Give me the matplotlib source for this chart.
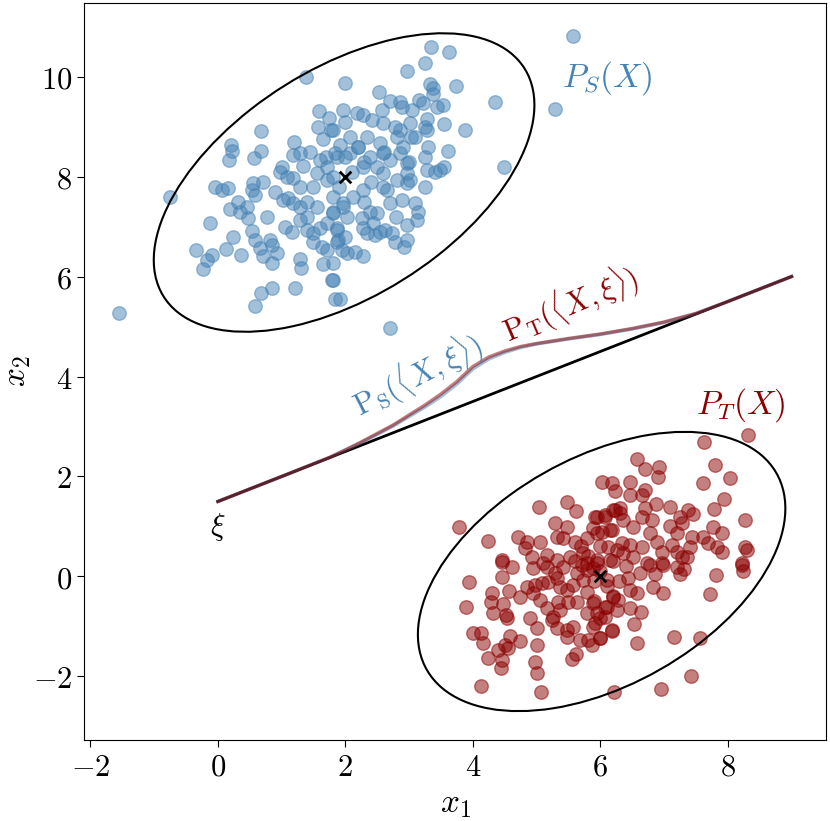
import numpy as np
import matplotlib
matplotlib.use("Agg")
import matplotlib.pyplot as plt
from matplotlib.patches import Ellipse
from matplotlib.ticker import FuncFormatter

plt.rcParams["mathtext.fontset"] = "cm"
plt.rcParams["font.family"] = "serif"

# source cluster P_S(X)
src_pts = [
    (1.39, 9.99), (2.0, 9.87), (1.58, 9.31), (1.96, 9.33), (1.74, 9.17), (1.57, 8.99),
    (1.77, 8.93), (1.65, 8.75), (0.67, 8.91), (0.2, 8.63), (0.22, 8.51), (0.17, 8.33),
    (0.67, 8.51), (0.56, 8.37), (1.18, 8.43), (1.33, 8.21), (1.29, 8.47), (1.44, 8.49),
    (1.91, 8.63), (1.84, 8.47), (1.6, 8.33), (1.71, 8.19), (1.55, 8.07), (1.8, 7.99),
    (1.71, 7.93), (0.97, 8.09), (1.08, 7.99), (1.18, 7.97), (-0.05, 7.79), (0.16, 7.77),
    (0.55, 7.87), (0.71, 7.89), (1.29, 7.79), (-0.75, 7.59), (0.06, 7.73), (0.53, 7.73),
    (0.58, 7.63), (0.31, 7.49), (0.19, 7.35), (0.45, 7.39), (0.47, 7.17), (0.35, 7.29),
    (-0.13, 7.07), (0.53, 6.91), (0.58, 6.73), (0.82, 6.73), (0.85, 6.63), (0.66, 6.57),
    (0.71, 6.41), (0.93, 6.47), (0.85, 6.27), (0.24, 6.79), (0.13, 6.55), (0.36, 6.43),
    (-0.35, 6.53), (-0.09, 6.43), (-0.17, 6.33), (-0.24, 6.15), (1.29, 6.35), (1.3, 6.17),
    (1.65, 6.25), (1.79, 5.93), (1.84, 5.55), (1.91, 5.55), (0.67, 5.67), (0.85, 5.77),
    (1.21, 5.77), (0.58, 5.41), (-1.55, 5.27), (0.77, 7.19), (0.89, 7.69), (1.02, 7.53),
    (1.1, 7.57), (1.18, 7.47), (1.29, 7.13), (1.4, 6.93), (1.49, 6.87), (1.6, 6.97),
    (1.71, 7.07), (1.8, 7.29), (1.87, 6.97), (2.02, 7.19), (1.96, 7.39), (1.29, 7.39),
    (1.4, 7.19), (1.55, 7.39), (1.71, 6.53), (1.88, 6.73), (1.95, 6.53), (2.02, 6.47),
    (1.8, 6.27), (1.16, 6.89), (1.05, 6.99), (1.49, 6.69), (1.63, 6.59),
    (5.57, 10.81), (3.34, 10.59), (3.62, 10.49), (3.25, 10.27), (2.96, 10.11),
    (3.33, 9.85), (3.37, 9.77), (3.37, 9.65), (3.73, 9.81), (4.35, 9.49), (5.29, 9.35),
    (2.53, 9.69), (2.7, 9.51), (2.85, 9.49), (2.89, 9.39), (3.15, 9.53), (3.22, 9.47),
    (3.04, 9.33), (3.44, 9.39), (3.53, 9.43), (2.18, 9.27), (2.27, 9.23), (2.42, 9.13),
    (2.57, 9.33), (2.59, 9.07), (2.78, 8.99), (2.85, 8.93), (3.01, 9.07), (3.03, 8.79),
    (3.28, 9.15), (3.25, 8.99), (3.28, 8.93), (3.55, 9.05), (3.87, 8.93), (3.29, 8.59),
    (3.61, 8.51), (3.25, 8.39), (3.55, 8.19), (3.28, 8.13), (3.4, 8.09), (4.49, 8.19),
    (1.8, 8.93), (2.07, 8.79), (2.2, 8.59), (2.34, 8.79), (2.38, 8.39), (2.54, 8.67),
    (2.59, 8.47), (2.7, 8.33), (2.81, 8.79), (2.85, 8.47), (2.96, 8.27), (2.96, 8.07),
    (3.01, 7.93), (2.27, 8.19), (2.59, 8.07), (2.07, 8.47), (1.87, 8.39),
    (3.25, 7.79), (3.48, 8.13), (3.09, 7.47), (3.14, 7.29), (3.12, 7.13), (2.96, 7.03),
    (2.96, 6.73), (2.92, 6.59), (2.78, 6.69), (2.73, 6.87), (2.62, 6.93), (2.54, 6.89),
    (2.46, 6.83), (2.34, 6.87), (2.27, 6.97), (2.49, 7.27), (2.43, 7.07), (2.26, 7.17),
    (2.38, 7.29), (2.7, 7.47), (2.65, 7.73), (2.89, 7.53), (2.96, 7.87), (2.81, 7.93),
    (2.59, 7.79), (2.27, 7.73), (2.12, 7.59), (1.96, 7.47), (1.8, 7.27), (1.87, 6.93),
    (1.99, 6.79), (1.87, 6.69), (2.15, 6.49), (2.27, 6.41), (1.8, 5.93), (2.7, 4.97),
    (2.1, 8.1), (2.3, 8.3), (1.9, 7.8), (2.4, 7.9), (2.2, 8.6), (1.7, 8.4), (2.5, 8.2),
    (2.0, 8.4), (1.8, 7.6), (2.6, 8.5), (2.3, 7.5), (1.5, 7.8), (2.9, 8.6), (3.1, 8.8),
    (2.0, 9.1), (1.2, 8.7), (1.0, 8.2), (2.8, 7.2), (3.0, 8.3), (1.4, 7.5),
]

# target cluster P_T(X)
tgt_pts = [
    (3.78, 0.99), (4.24, 0.71), (5.04, 1.39), (5.47, 1.49), (5.62, 1.31), (6.02, 1.89),
    (6.18, 1.87), (6.23, 1.71), (5.29, 1.07), (5.47, 0.99), (4.71, 0.79), (4.85, 0.69),
    (5.05, 0.69), (4.45, 0.33), (4.61, 0.19), (4.82, 0.57), (4.93, 0.39), (5.16, 0.43),
    (5.32, 0.79), (5.41, 0.77), (5.6, 0.69), (5.79, 0.77), (5.88, 0.97), (6.07, 1.19),
    (6.2, 1.33), (6.31, 1.27), (5.91, 1.19), (6.02, 0.89), (6.18, 0.93), (6.12, 0.59),
    (6.26, 0.53), (5.73, 0.47), (5.52, 0.39), (5.32, 0.33), (5.41, 0.19), (5.16, 0.19),
    (5.79, 0.27), (5.95, 0.33), (8.31, 2.83), (7.62, 2.69), (6.57, 2.35), (6.7, 2.15),
    (6.92, 2.19), (6.9, 1.99), (7.8, 2.23), (8.03, 1.97), (7.61, 1.87), (7.94, 1.55),
    (6.46, 1.89), (6.46, 1.63), (6.7, 1.73), (6.65, 1.63), (6.87, 1.45), (7.09, 1.39),
    (6.7, 1.37), (6.65, 1.19), (6.81, 1.13), (7.37, 1.33), (7.45, 1.25), (7.25, 1.19),
    (7.28, 1.07), (7.09, 1.01), (7.2, 0.87), (7.78, 1.35), (7.76, 0.99), (7.91, 0.87),
    (7.44, 0.79), (7.61, 0.79), (7.69, 0.67), (7.83, 0.59), (7.91, 0.49), (8.27, 1.13),
    (8.27, 0.59), (8.3, 0.53), (8.22, 0.27), (5.95, 1.19), (6.07, 1.23), (6.23, 1.33),
    (6.31, 1.37), (6.35, 1.13), (6.51, 0.99), (6.15, 0.93), (5.95, 0.87), (6.34, 0.67),
    (6.46, 0.63), (6.65, 0.59), (6.78, 0.87), (6.89, 0.69), (6.96, 0.49), (7.12, 0.63),
    (7.2, 0.49), (7.28, 0.39), (7.4, 0.59), (6.96, 0.27), (6.73, 0.27), (6.51, 0.39),
    (6.35, 0.47), (6.15, 0.33), (5.95, 0.27), (7.2, 0.19), (7.36, 0.39),
    (3.94, -0.11), (3.9, -0.61), (4.45, -0.01), (4.45, 0.29), (4.3, -0.33), (4.28, -0.51),
    (4.47, -0.55), (4.31, -0.73), (4.52, -0.77), (4.53, -0.83), (4.56, -0.29),
    (4.0, -1.13), (4.13, -1.13), (4.16, -1.33), (4.58, -1.19), (4.74, -1.29), (4.5, -1.37),
    (4.39, -1.47), (4.55, -1.43), (4.24, -1.63), (4.45, -1.67), (4.44, -1.83),
    (4.13, -2.19), (5.07, -2.31), (5.0, -1.37), (4.97, -1.71), (5.0, -1.93), (5.55, -1.65),
    (5.62, -1.55), (6.21, -2.31), (4.89, -0.83), (5.0, -1.03), (5.25, -0.81), (5.32, -1.03),
    (5.47, -1.07), (5.47, -1.21), (5.68, -1.27), (5.8, -1.27), (5.87, -1.37), (5.99, -1.23),
    (6.18, -1.07), (5.91, -0.93), (5.95, -0.73), (5.88, -0.53), (5.79, -0.73), (6.07, -0.81),
    (5.57, -1.01), (5.36, -0.67), (5.16, -0.63), (5.24, -0.87), (5.49, -0.51), (5.33, -0.51),
    (5.05, -0.47), (4.94, -0.33), (4.85, -0.21), (4.74, -0.41), (4.97, -0.17), (5.08, -0.13),
    (5.18, -0.11), (5.32, -0.03), (5.36, -0.21), (5.47, -0.27), (5.57, -0.17), (5.63, 0.07),
    (5.73, -0.07), (5.79, 0.13), (5.88, 0.17), (5.71, 0.23), (6.1, -0.07), (6.2, -0.41),
    (6.1, -0.61), (6.26, -0.67), (5.63, -0.51), (5.79, -0.31), (4.94, 0.17), (5.1, 0.27),
    (5.29, 0.07), (7.81, 0.03), (8.22, 0.23), (8.24, 0.11), (7.72, -0.35), (7.15, -1.21),
    (7.56, -1.23), (7.42, -1.99), (6.95, -2.25), (6.57, -1.33), (6.18, -1.09), (6.53, -0.95),
    (6.64, -0.71), (6.98, -0.33), (6.82, -0.21), (7.25, 0.05), (7.31, 0.15), (6.98, 0.23),
    (6.78, 0.23), (6.86, 0.05), (6.62, 0.07), (6.43, -0.03), (6.46, -0.27), (6.57, -0.33),
    (6.46, -0.63), (6.27, -0.47), (6.07, -0.61), (5.99, -0.83), (5.88, -1.01), (5.99, -1.23),
    (6.0, 0.1), (6.1, -0.2), (5.9, -0.1), (6.2, 0.3), (5.8, 0.4), (6.3, -0.1), (6.4, 0.2),
    (5.7, 0.6), (6.0, 0.6), (5.6, 0.3), (6.2, -0.4), (5.9, -0.5),
]

src_mean = (2, 8)
tgt_mean = (6, 0)

# ellipses: centre, width, height, angle
src_ell = ((1.98, 7.88), 7.36, 4.14, 45)
tgt_ell = ((6.02, 0.1), 6.84, 4.2, 43)

# projection line xi and the projected densities drawn along it
xi_x = [0, 9]
xi_y = [1.5, 6]
curve_x = [0, 1, 1.75, 2.0, 2.25, 2.5, 2.75, 3.0, 3.25, 3.5, 3.75, 4.0, 4.25, 4.5, 4.75,
           5.0, 5.5, 6.0, 6.5, 7.0, 7.5, 8.0, 9.0]
curve_t = [1.5, 2.0, 2.38, 2.53, 2.69, 2.86, 3.03, 3.23, 3.43, 3.65, 3.9, 4.2, 4.39, 4.51,
           4.6, 4.66, 4.76, 4.85, 4.96, 5.09, 5.26, 5.5, 6.0]
curve_s = [1.5, 2.0, 2.38, 2.53, 2.68, 2.84, 3.01, 3.2, 3.39, 3.6, 3.85, 4.15, 4.35, 4.48,
           4.58, 4.65, 4.75, 4.84, 4.95, 5.08, 5.26, 5.5, 6.0]

blue = "steelblue"
red = "darkred"

fig = plt.figure(figsize=(8.3, 8.21), dpi=100)
ax = fig.add_axes([0.1012, 0.0987, 0.894, 0.8976])

src = np.array(src_pts)
tgt = np.array(tgt_pts)
ax.scatter(src[:, 0], src[:, 1], s=95, color=blue, alpha=0.5)
ax.scatter(tgt[:, 0], tgt[:, 1], s=95, color=red, alpha=0.5)

for (c, w, h, a), m in ((src_ell, src_mean), (tgt_ell, tgt_mean)):
    ax.add_patch(Ellipse(c, width=w, height=h, angle=a,
                         fill=False, edgecolor="black", lw=1.5))
    ax.scatter([m[0]], [m[1]], marker="x", color="black", s=70, linewidths=2, zorder=5)

ax.plot(xi_x, xi_y, color="black", lw=2)
ax.plot(curve_x, curve_s, color=blue, lw=2.5, alpha=0.5)
ax.plot(curve_x, curve_t, color=red, lw=2.5, alpha=0.5)

ax.text(6.1, 9.97, r"$P_S(X)$", color=blue, fontsize=24, ha="center", va="center")
ax.text(8.2, 3.43, r"$P_T(X)$", color=red, fontsize=24, ha="center", va="center")
ax.text(0.0, 0.99, r"$\xi$", color="black", fontsize=22, ha="center", va="center")
ax.text(3.12, 4.03, r"$\mathrm{P}_\mathrm{S}(\langle X, \xi\rangle)$", color=blue,
        fontsize=22, ha="center", va="center", rotation=27, rotation_mode="anchor")
ax.text(5.52, 5.45, r"$\mathrm{P}_\mathrm{T}(\langle X, \xi\rangle)$", color=red,
        fontsize=22, ha="center", va="center", rotation=23, rotation_mode="anchor")

ax.set_xlim(-2.1, 9.54)
ax.set_ylim(-3.27, 11.47)
ax.set_xticks([-2, 0, 2, 4, 6, 8])
ax.set_yticks([-2, 0, 2, 4, 6, 8, 10])
fmt = FuncFormatter(lambda v, p: r"$%d$" % v)
ax.xaxis.set_major_formatter(fmt)
ax.yaxis.set_major_formatter(fmt)
ax.tick_params(labelsize=22, length=5)
ax.set_xlabel(r"$x_1$", fontsize=24)
ax.set_ylabel(r"$x_2$", fontsize=24, labelpad=0)

fig.savefig("out.png", dpi=100)
